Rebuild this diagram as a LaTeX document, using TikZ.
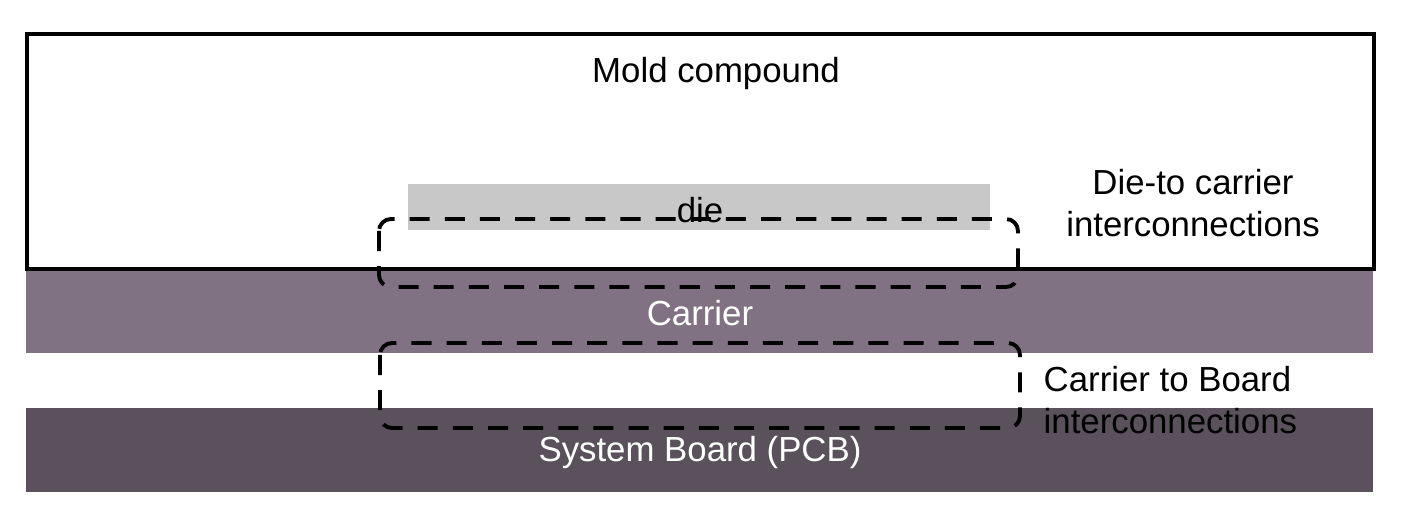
\documentclass[tikz,border=0pt]{standalone}
\usepackage{fontspec}
\setmainfont{Liberation Sans}
\usepackage{tikz}

\definecolor{carriercol}{HTML}{807282}
\definecolor{boardcol}{HTML}{5A515C}
\definecolor{diecol}{HTML}{C8C8C8}

\begin{document}
\begin{tikzpicture}[font=\fontsize{9.9}{12}\selectfont,
    txt/.style={inner sep=0pt, align=center},
    ring/.style={dash pattern=on 5.7pt off 4.3pt, line width=1.1pt, rounded corners=0.12cm}]
    \useasboundingbox (0.00, 0.00) rectangle (14.20, 5.06);
    % layers
    \draw [line width=1.15pt, fill=white] (0.27, 4.72) rectangle (13.74, 2.37);
    \fill [carriercol] (0.26, 2.35) rectangle (13.73, 1.53);
    \fill [boardcol] (0.26, 0.98) rectangle (13.73, 0.14);
    \fill [diecol] (4.08, 3.22) rectangle (9.90, 2.76);
    \node [txt] (m) at (7.16, 4.32) {Mold compound};
    \node [txt] (d) at (7.00, 2.96) {die};
    \node [txt, text=white] (c) at (7.00, 1.93) {Carrier};
    \node [txt, text=white] (b) at (7.00, 0.53) {System Board (PCB)};
    % interconnections
    \draw [ring] (3.79, 2.87) rectangle (10.18, 2.19);
    \draw [ring] (3.80, 1.63) rectangle (10.20, 0.78);
    \node [txt] (e) at (11.93, 3.03) {Die-to carrier\\interconnections};
    \node [txt, align=left, anchor=west] (f) at (10.43, 1.06) {Carrier to Board\\interconnections};
\end{tikzpicture}
\end{document}
